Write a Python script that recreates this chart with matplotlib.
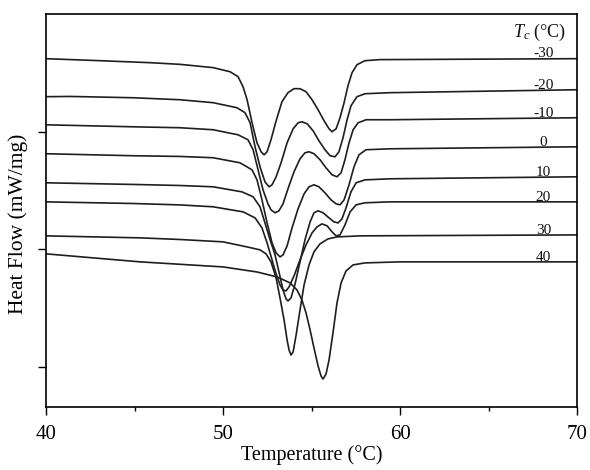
import matplotlib
matplotlib.use("Agg")
import matplotlib.pyplot as plt
from matplotlib.ticker import MultipleLocator

plt.rcParams['font.family'] = ['Liberation Serif', 'DejaVu Serif']
plt.rcParams['mathtext.fontset'] = 'custom'
plt.rcParams['mathtext.rm'] = 'Liberation Serif'
plt.rcParams['mathtext.it'] = 'Liberation Serif:italic'

# DSC heating curves after crystallization at different Tc
tc_labels = ["-30", "-20", "-10", "0", "10", "20", "30", "40"]

t_m30 = [40.00, 43.05, 45.88, 47.57, 49.44, 50.40, 50.85, 51.13, 51.36, 51.64, 51.92, 52.15, 52.32, 52.49,
         52.71, 53.00, 53.33, 53.67, 54.01, 54.35, 54.69, 55.03, 55.37, 55.71, 55.99, 56.16, 56.39, 56.61,
         56.84, 57.06, 57.29, 57.57, 58.02, 58.87, 70.00]
hf_m30 = [3.621, 3.604, 3.587, 3.573, 3.545, 3.510, 3.468, 3.383, 3.272, 3.076, 2.906, 2.830, 2.804, 2.830,
          2.932, 3.093, 3.255, 3.332, 3.366, 3.366, 3.340, 3.272, 3.187, 3.093, 3.025, 3.000, 3.025, 3.119,
          3.247, 3.391, 3.502, 3.570, 3.604, 3.613, 3.621]

t_m20 = [40.00, 41.36, 44.92, 47.57, 49.44, 50.79, 51.24, 51.53, 51.81, 52.09, 52.37, 52.60, 52.77, 53.00,
         53.28, 53.62, 53.96, 54.24, 54.46, 54.75, 55.09, 55.42, 55.76, 56.05, 56.33, 56.55, 56.78, 57.01,
         57.23, 57.57, 58.02, 59.44, 70.00]
hf_m20 = [3.298, 3.300, 3.289, 3.272, 3.247, 3.204, 3.162, 3.076, 2.872, 2.702, 2.574, 2.532, 2.549, 2.617,
          2.736, 2.906, 3.025, 3.076, 3.085, 3.068, 3.008, 2.923, 2.847, 2.796, 2.787, 2.830, 2.949, 3.102,
          3.221, 3.298, 3.323, 3.332, 3.357]

t_m10 = [40.00, 44.92, 47.57, 49.44, 50.85, 51.41, 51.70, 51.98, 52.26, 52.54, 52.71, 52.94, 53.16, 53.39,
         53.67, 54.01, 54.35, 54.63, 54.86, 55.14, 55.48, 55.82, 56.16, 56.44, 56.67, 56.89, 57.12, 57.35,
         57.63, 58.08, 59.44, 70.00]
hf_m10 = [3.059, 3.042, 3.034, 3.017, 2.974, 2.932, 2.847, 2.676, 2.506, 2.387, 2.336, 2.311, 2.328, 2.387,
          2.515, 2.659, 2.770, 2.821, 2.830, 2.813, 2.762, 2.693, 2.634, 2.617, 2.651, 2.762, 2.906, 3.017,
          3.076, 3.102, 3.102, 3.119]

t_0 = [40.00, 44.92, 47.57, 49.44, 50.96, 51.64, 51.92, 52.20, 52.49, 52.77, 53.00, 53.22, 53.39, 53.62,
       53.90, 54.24, 54.58, 54.86, 55.14, 55.42, 55.76, 56.10, 56.39, 56.61, 56.84, 57.12, 57.40, 57.68,
       58.08, 59.44, 70.00]
hf_0 = [2.813, 2.796, 2.790, 2.779, 2.736, 2.676, 2.591, 2.421, 2.225, 2.055, 1.970, 1.936, 1.953, 2.030,
        2.183, 2.345, 2.472, 2.532, 2.549, 2.532, 2.481, 2.421, 2.387, 2.379, 2.421, 2.549, 2.702, 2.804,
        2.847, 2.855, 2.872]

t_10 = [40.00, 44.92, 47.57, 49.44, 51.07, 51.70, 52.09, 52.37, 52.66, 52.94, 53.16, 53.39, 53.56, 53.67,
        53.84, 54.07, 54.35, 54.63, 54.92, 55.14, 55.37, 55.65, 55.99, 56.27, 56.50, 56.72, 56.95, 57.23,
        57.52, 58.02, 59.44, 70.00]
hf_10 = [2.566, 2.552, 2.543, 2.532, 2.489, 2.447, 2.362, 2.225, 2.081, 1.953, 1.808, 1.655, 1.579, 1.562,
         1.587, 1.706, 1.894, 2.081, 2.234, 2.311, 2.328, 2.311, 2.268, 2.234, 2.225, 2.259, 2.353, 2.489,
         2.566, 2.591, 2.600, 2.617]

t_20 = [40.00, 44.92, 47.57, 49.44, 51.13, 51.81, 52.20, 52.49, 52.77, 53.00, 53.22, 53.39, 53.56, 53.73,
        54.01, 54.35, 54.69, 55.03, 55.31, 55.59, 55.88, 56.16, 56.39, 56.61, 56.89, 57.18, 57.52, 58.02,
        59.44, 70.00]
hf_20 = [2.404, 2.390, 2.378, 2.362, 2.319, 2.268, 2.183, 2.055, 1.911, 1.791, 1.698, 1.655, 1.647, 1.681,
         1.774, 1.911, 2.038, 2.140, 2.191, 2.217, 2.200, 2.149, 2.115, 2.123, 2.208, 2.319, 2.379, 2.396,
         2.404, 2.404]

t_30 = [40.00, 45.31, 47.57, 50.00, 51.36, 52.09, 52.43, 52.71, 53.00, 53.22, 53.45, 53.62, 53.73, 53.84,
        53.96, 54.13, 54.35, 54.58, 54.86, 55.14, 55.48, 55.93, 56.44, 57.74, 70.00]
hf_30 = [2.115, 2.098, 2.084, 2.064, 2.021, 1.996, 1.962, 1.894, 1.757, 1.587, 1.400, 1.230, 1.145, 1.102,
         1.128, 1.272, 1.485, 1.698, 1.868, 1.979, 2.047, 2.089, 2.106, 2.115, 2.123]

t_40 = [40.00, 45.31, 50.00, 51.92, 53.05, 53.79, 54.18, 54.46, 54.69, 54.92, 55.14, 55.37, 55.54, 55.65,
        55.82, 55.99, 56.22, 56.44, 56.67, 56.95, 57.35, 58.02, 60.00, 70.00]
hf_40 = [1.962, 1.894, 1.851, 1.808, 1.766, 1.715, 1.655, 1.570, 1.460, 1.315, 1.162, 1.009, 0.923, 0.898,
         0.940, 1.060, 1.298, 1.545, 1.715, 1.817, 1.868, 1.885, 1.894, 1.894]

temps = [t_m30, t_m20, t_m10, t_0, t_10, t_20, t_30, t_40]
flows = [hf_m30, hf_m20, hf_m10, hf_0, hf_10, hf_20, hf_30, hf_40]

fig = plt.figure(figsize=(5.9, 4.7), dpi=100)
ax = fig.add_axes([0.078, 0.134, 0.900, 0.836])

for t, hf, lab in zip(temps, flows, tc_labels):
    ax.plot(t, hf, color="#1e1e1e", lw=1.2)
    ax.text(68.1, hf[-1] - 0.015, lab, fontsize=11, ha="center", va="bottom", color="#111111")

ax.text(67.9, 3.84, r"$T_c$ (°C)", fontsize=13, ha="center", va="center", color="#111111")

ax.set_xlim(40, 70)
ax.set_ylim(0.66, 4.0)
ax.xaxis.set_major_locator(MultipleLocator(10))
ax.xaxis.set_minor_locator(MultipleLocator(5))
ax.set_yticks([1, 2, 3])
ax.set_yticklabels([])
ax.tick_params(axis="both", which="major", direction="out", length=6, width=1, labelsize=15, pad=7)
ax.tick_params(axis="x", which="minor", direction="out", length=3, width=1)
for sp in ax.spines.values():
    sp.set_linewidth(1.2)

ax.set_xlabel("Temperature (°C)", fontsize=14.5, labelpad=1)
ax.set_ylabel("Heat Flow (mW/mg)", fontsize=15.5)
ax.yaxis.set_label_coords(-0.034, 0.465)

fig.savefig("out.png", dpi=100)
